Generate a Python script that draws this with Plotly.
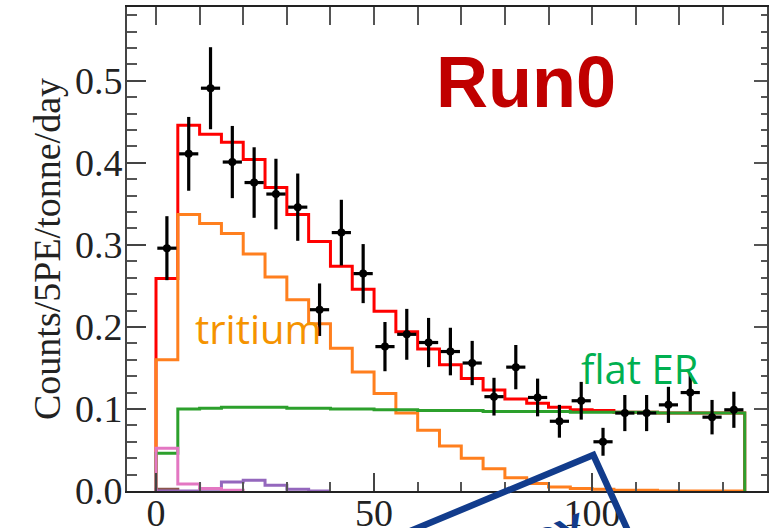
import plotly.graph_objects as go

# ---------------- data ----------------
bin_edges = [0, 5, 10, 15, 20, 25, 30, 35, 40, 45, 50, 55, 60, 65, 70, 75, 80, 85, 90,
             95, 100, 105, 110, 115, 120, 125, 130, 135]
data_x = [2.5, 7.5, 12.5, 17.5, 22.5, 27.5, 32.5, 37.5, 42.5, 47.5, 52.5, 57.5, 62.5,
          67.5, 72.5, 77.5, 82.5, 87.5, 92.5, 97.5, 102.5, 107.5, 112.5, 117.5, 122.5,
          127.5, 132.5]
data_y = [0.296, 0.411, 0.491, 0.401, 0.376, 0.362, 0.346, 0.221, 0.315, 0.265, 0.176,
          0.191, 0.181, 0.170, 0.156, 0.115, 0.151, 0.114, 0.085, 0.110, 0.060, 0.095,
          0.095, 0.105, 0.120, 0.090, 0.099]
data_err = [0.039, 0.045, 0.050, 0.044, 0.043, 0.043, 0.041, 0.032, 0.040, 0.036, 0.030,
            0.031, 0.030, 0.029, 0.027, 0.023, 0.027, 0.023, 0.020, 0.023, 0.017, 0.022,
            0.022, 0.022, 0.023, 0.021, 0.022]
data_xerr = [2.2] * len(data_x)

total_fit = [0.259, 0.446, 0.435, 0.425, 0.404, 0.370, 0.337, 0.304, 0.274, 0.246, 0.219,
             0.194, 0.173, 0.154, 0.137, 0.123, 0.112, 0.107, 0.102, 0.099, 0.098, 0.096,
             0.096, 0.095, 0.095, 0.095, 0.095]
tritium = [0.160, 0.337, 0.326, 0.314, 0.289, 0.261, 0.233, 0.204, 0.174, 0.145, 0.119,
           0.095, 0.074, 0.055, 0.040, 0.027, 0.016, 0.009, 0.005, 0.003, 0.002, 0.001,
           0.001, 0.0, 0.0, 0.0, 0.0]
flat_er = [0.046, 0.100, 0.101, 0.102, 0.102, 0.102, 0.101, 0.101, 0.100, 0.100, 0.099,
           0.099, 0.098, 0.098, 0.098, 0.097, 0.097, 0.097, 0.097, 0.096, 0.096, 0.096,
           0.096, 0.095, 0.095, 0.095, 0.095]
pink_comp = [0.052, 0.0085, 0.003, 0.001]
purple_comp = [0.0, 0.0, 0.002, 0.011, 0.013, 0.007, 0.002, 0.0]
brown_comp = [0.002]

x_tick_vals = [0, 50, 100]
y_tick_vals = [0.0, 0.1, 0.2, 0.3, 0.4, 0.5]

# ---------------- geometry ----------------
W, H = 769, 528
PL, PR, PT, PB = 127, 767, 7, 491


def px(x):
    return (x - PL) / (PR - PL)


def py(y):
    return (PB - y) / (PB - PT)


def step_xy(values):
    xs = [bin_edges[0]] + bin_edges[:len(values)] + [bin_edges[len(values)], bin_edges[len(values)]]
    ys = [0] + list(values) + [values[-1], 0]
    return xs, ys


fig = go.Figure()


def add_step(values, color, width=3):
    xs, ys = step_xy(values)
    fig.add_trace(go.Scatter(x=xs, y=ys, mode="lines", line=dict(color=color, width=width, shape="hv"),
                             showlegend=False, hoverinfo="skip"))


add_step(total_fit, "#ff0000")
add_step(tritium, "#ff7f1e")
add_step(flat_er, "#2ca02c")
add_step(brown_comp, "#8c564b")
add_step(purple_comp, "#9467bd")
add_step(pink_comp, "#e377c2")

fig.add_trace(go.Scatter(
    x=data_x, y=data_y, mode="markers",
    marker=dict(color="black", size=8),
    error_y=dict(type="data", array=data_err, color="black", thickness=3.2, width=0),
    error_x=dict(type="data", array=data_xerr, color="black", thickness=3.2, width=0),
    showlegend=False, hoverinfo="skip"))

# dummy trace for the mirrored tick axes
fig.add_trace(go.Scatter(x=[None], y=[None], xaxis="x2", yaxis="y2", showlegend=False, hoverinfo="skip"))

xr = [-6.65, 140.1]
yr = [0, 0.59]
tickfont = dict(family="Liberation Serif, Times New Roman, serif", size=38, color="#222")

fig.update_layout(
    width=W, height=H,
    margin=dict(l=PL, r=W - PR, t=PT, b=H - PB, pad=0, autoexpand=False),
    paper_bgcolor="white", plot_bgcolor="white",
    xaxis=dict(range=xr, tickmode="array", tickvals=x_tick_vals, ticks="inside", ticklen=18,
               tickwidth=2, tickcolor="#444", automargin=False, ticklabelstandoff=-13,
               minor=dict(dtick=10, tick0=0, ticks="inside", ticklen=9, tickwidth=2, tickcolor="#555"),
               showline=True, linecolor="#222", linewidth=2, mirror=True,
               showgrid=False, zeroline=False, tickfont=tickfont),
    yaxis=dict(range=yr, tickmode="array", tickvals=y_tick_vals, tickformat=".1f", ticks="inside",
               ticklen=19, tickwidth=2, tickcolor="#444", automargin=False, ticklabelstandoff=-5,
               minor=dict(dtick=0.02, tick0=0, ticks="inside", ticklen=9.5, tickwidth=2, tickcolor="#555"),
               showline=True, linecolor="#444", linewidth=2, mirror=True,
               showgrid=False, zeroline=False, tickfont=tickfont),
    xaxis2=dict(range=xr, overlaying="x", side="top", anchor="y", dtick=10, tick0=0,
                ticks="inside", ticklen=18, tickwidth=2, tickcolor="#555", automargin=False,
                showticklabels=False, showline=False, showgrid=False, zeroline=False),
    yaxis2=dict(range=yr, overlaying="y", side="right", anchor="x", dtick=0.1, tick0=0,
                ticks="inside", ticklen=13, tickwidth=2, tickcolor="#555", automargin=False,
                minor=dict(dtick=0.02, tick0=0, ticks="inside", ticklen=6.5, tickwidth=2, tickcolor="#555"),
                showticklabels=False, showline=False, showgrid=False, zeroline=False),
)

ann_common = dict(xref="paper", yref="paper", showarrow=False)
fig.add_annotation(text="Counts/5PE/tonne/day", x=px(47), y=py(249), textangle=-90,
                   xanchor="center", yanchor="middle",
                   font=dict(family="Liberation Serif, Times New Roman, serif", size=38, color="#222"),
                   **ann_common)
fig.add_annotation(text="<b>Run0</b>", x=px(526), y=py(82), xanchor="center", yanchor="middle",
                   font=dict(family="Liberation Sans, Arial, sans-serif", size=72, color="#c00000"),
                   **ann_common)
fig.add_annotation(text="tritium", x=px(258), y=py(328), xanchor="center", yanchor="middle",
                   font=dict(family="Open Sans, sans-serif", size=40, color="#f59300"),
                   **ann_common)
fig.add_annotation(text="flat ER", x=px(640), y=py(368), xanchor="center", yanchor="middle",
                   font=dict(family="Open Sans, sans-serif", size=40, color="#00b050"),
                   **ann_common)

# stamp (partially outside the picture)
stamp_color = "#123c8c"
p0, p1, p2 = (360, 551.9), (593.3, 455), (641.3, 560)
path = "M {} {} L {} {} L {} {}".format(px(p0[0]), py(p0[1]), px(p1[0]), py(p1[1]), px(p2[0]), py(p2[1]))
fig.add_shape(type="path", path=path, xref="paper", yref="paper",
              line=dict(color=stamp_color, width=6.5), layer="above")
fig.add_annotation(text="<b>PRELIMINARY</b>", x=px(447), y=py(584), textangle=-23,
                   xanchor="center", yanchor="middle",
                   font=dict(family="Liberation Sans, Arial, sans-serif", size=44, color=stamp_color),
                   **ann_common)

fig.write_html("out.html")
